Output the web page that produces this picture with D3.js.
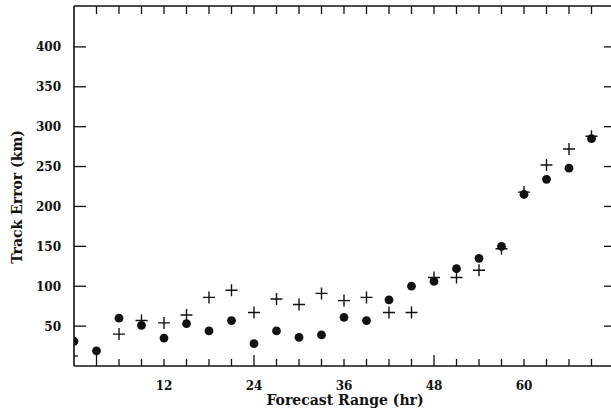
<!DOCTYPE html>
<html>
<head>
<meta charset="utf-8">
<script src="https://cdn.jsdelivr.net/npm/d3@7"></script>
<style>
  body { margin: 0; background: #fff; }
  svg text { font-family: "DejaVu Serif", serif; font-weight: bold; fill: #111; }
</style>
</head>
<body>
<div id="chart"></div>
<script>
// forecast hours (every 3 h)
var hours = [0, 3, 6, 9, 12, 15, 18, 21, 24, 27, 30, 33, 36, 39, 42, 45, 48, 51, 54, 57, 60, 63, 66, 69];
// filled dots series (km)
var dotErr = [31, 19, 60, 51, 35, 53, 44, 57, 28, 44, 36, 39, 61, 57, 83, 100, 106, 122, 135, 150, 215, 234, 248, 285];
// plus series (km), starts at 6 h
var plusHours = [6, 9, 12, 15, 18, 21, 24, 27, 30, 33, 36, 39, 42, 45, 48, 51, 54, 57, 60, 63, 66, 69];
var plusErr = [40, 57, 54, 64, 86, 95, 67, 84, 77, 91, 82, 86, 67, 67, 111, 111, 120, 147, 218, 252, 272, 288];
var xTickLabels = [12, 24, 36, 48, 60];
var yTickLabels = [50, 100, 150, 200, 250, 300, 350, 400];

var width = 611, height = 415;
var svg = d3.select("#chart").append("svg")
	.attr("width", width)
	.attr("height", height);

var x = d3.scaleLinear().domain([0, 72]).range([74, 614]);
var y = d3.scaleLinear().domain([0, 450]).range([366, 7]);

var hrTicks = d3.range(3, 72, 3);

// bottom axis
var bottomAxis = svg.append("g").attr("transform", "translate(0,366)");
bottomAxis.append("line").attr("x1", 74).attr("x2", 614).attr("stroke", "#111").attr("stroke-width", 1.6);
bottomAxis.selectAll(".bt").data(hrTicks).enter().append("line")
	.attr("x1", function(d) { return x(d); })
	.attr("x2", function(d) { return x(d); })
	.attr("y1", 0)
	.attr("y2", function(d) { return d % 24 == 0 ? -11 : (d == 3 ? -15 : -7); })
	.attr("stroke", "#111").attr("stroke-width", 1.3);
bottomAxis.selectAll(".bl").data(xTickLabels).enter().append("text")
	.attr("x", function(d) { return x(d); })
	.attr("y", 24)
	.attr("text-anchor", "middle")
	.style("font-size", "12px")
	.text(function(d) { return d; });

// top axis
var topAxis = svg.append("g").attr("transform", "translate(0,6)");
topAxis.append("line").attr("x1", 74).attr("x2", 614).attr("stroke", "#111").attr("stroke-width", 1.6);
topAxis.selectAll(".tt").data(hrTicks).enter().append("line")
	.attr("x1", function(d) { return x(d); })
	.attr("x2", function(d) { return x(d); })
	.attr("y1", 0).attr("y2", 8)
	.attr("stroke", "#111").attr("stroke-width", 1.3);

// left axis
var leftAxis = svg.append("g");
leftAxis.append("line").attr("x1", 74).attr("x2", 74).attr("y1", 6).attr("y2", 366)
	.attr("stroke", "#111").attr("stroke-width", 1.6);
leftAxis.selectAll(".lt").data(yTickLabels).enter().append("line")
	.attr("x1", 74).attr("x2", 86)
	.attr("y1", function(d) { return y(d); })
	.attr("y2", function(d) { return y(d); })
	.attr("stroke", "#111").attr("stroke-width", 1.3);
leftAxis.append("line")
	.attr("x1", 74).attr("x2", 78)
	.attr("y1", y(12.5)).attr("y2", y(12.5))
	.attr("stroke", "#111").attr("stroke-width", 1.3);
leftAxis.selectAll(".ll").data(yTickLabels).enter().append("text")
	.attr("x", 61)
	.attr("y", function(d) { return y(d) + 4.5; })
	.attr("text-anchor", "end")
	.style("font-size", "12px")
	.text(function(d) { return d; });

// right axis ticks (axis line itself is just off the page)
svg.selectAll(".rt").data(yTickLabels).enter().append("line")
	.attr("x1", 604).attr("x2", 614)
	.attr("y1", function(d) { return y(d); })
	.attr("y2", function(d) { return y(d); })
	.attr("stroke", "#111").attr("stroke-width", 1.3);

// axis titles
svg.append("text")
	.attr("x", 345).attr("y", 405)
	.attr("text-anchor", "middle")
	.style("font-size", "14px")
	.text("Forecast Range (hr)");
svg.append("text")
	.attr("transform", "translate(22,197) rotate(-90)")
	.attr("text-anchor", "middle")
	.style("font-size", "14px")
	.text("Track Error (km)");

// data marks, clipped to the frame
svg.append("clipPath").attr("id", "plot-clip")
	.append("rect").attr("x", 74).attr("y", 6).attr("width", 540).attr("height", 360);
var plot = svg.append("g").attr("clip-path", "url(#plot-clip)");

plot.selectAll(".dot").data(hours).enter().append("circle")
	.attr("class", "dot")
	.attr("cx", function(d) { return x(d); })
	.attr("cy", function(d, i) { return y(dotErr[i]); })
	.attr("r", 4.4)
	.style("fill", "#111");

plot.selectAll(".plus").data(plusHours).enter().append("path")
	.attr("class", "plus")
	.attr("d", function(d, i) {
		var px = x(d), py = y(plusErr[i]);
		return "M" + (px - 6) + "," + py + "H" + (px + 6) + "M" + px + "," + (py - 6) + "V" + (py + 6);
	})
	.style("stroke", "#111")
	.style("stroke-width", 1.4)
	.style("fill", "none");
</script>
</body>
</html>
